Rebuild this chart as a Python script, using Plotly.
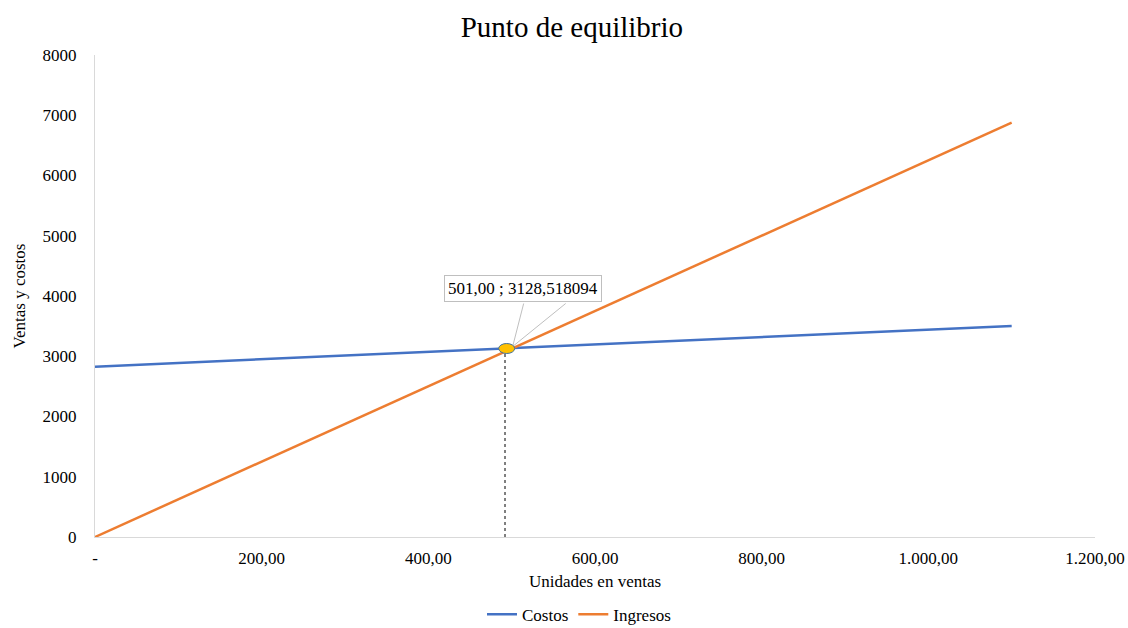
import plotly.graph_objects as go

# Data
unidades = [0, 1100]
costos = [2827, 3502]
ingresos = [0, 6877]
be_x = 494
be_y = 3128.518094
be_label = "501,00 ; 3128,518094"
x_tickvals = [0, 200, 400, 600, 800, 1000, 1200]
x_ticktext = ["-", "200,00", "400,00", "600,00", "800,00", "1.000,00", "1.200,00"]
y_tickvals = [0, 1000, 2000, 3000, 4000, 5000, 6000, 7000, 8000]

FONT = "Liberation Serif, Times New Roman, serif"

fig = go.Figure()
fig.add_trace(go.Scatter(x=unidades, y=costos, mode="lines", name="Costos",
                         line=dict(color="#4472C4", width=2.5)))
fig.add_trace(go.Scatter(x=unidades, y=ingresos, mode="lines", name="Ingresos",
                         line=dict(color="#ED7D31", width=2.5)))
# dashed drop line
fig.add_trace(go.Scatter(x=[be_x - 2, be_x - 2], y=[0, be_y], mode="lines", showlegend=False,
                         hoverinfo="skip", line=dict(color="black", width=1, dash="3px,3px")))

shapes = [
    # callout leader lines
    dict(type="path", xref="x", yref="y", xsizemode="pixel", ysizemode="pixel",
         xanchor=be_x, yanchor=be_y,
         path="M 6 2 L 17 45 M 6 2 L 59 45",
         line=dict(color="#BFBFBF", width=1)),
    # ellipse marker
    dict(type="circle", xref="x", yref="y", xsizemode="pixel", ysizemode="pixel",
         xanchor=be_x, yanchor=be_y, x0=-8, x1=8, y0=-5, y1=5,
         fillcolor="#FFC000", line=dict(color="#41719C", width=1)),
]

fig.update_layout(
    width=1128, height=628,
    margin=dict(l=95, r=33, t=55, b=91, autoexpand=False),
    paper_bgcolor="white", plot_bgcolor="white",
    font=dict(family=FONT, size=17, color="black"),
    title=dict(text="Punto de equilibrio", x=0.507, xanchor="center", y=0.958, yanchor="middle",
               font=dict(family=FONT, size=29, color="black")),
    xaxis=dict(range=[0, 1200], tickvals=x_tickvals, ticktext=x_ticktext, automargin=False,
               showgrid=False, zeroline=False, showline=True, linecolor="#D9D9D9", linewidth=1,
               ticks="", ticklabelstandoff=6,
               title=dict(text="Unidades en ventas", standoff=7, font=dict(family=FONT, size=17))),
    yaxis=dict(range=[0, 8000], tickvals=y_tickvals, automargin=False,
               showgrid=False, zeroline=False, showline=True, linecolor="#D9D9D9", linewidth=1,
               ticks="", ticklabelstandoff=14,
               title=dict(text="Ventas y costos", standoff=12, font=dict(family=FONT, size=17))),
    legend=dict(orientation="h", x=0.484, xanchor="center", y=-0.124, yanchor="top",
                font=dict(family=FONT, size=17), itemwidth=30, tracegroupgap=0),
    shapes=shapes,
    annotations=[dict(x=be_x, y=be_y, xref="x", yref="y", text=be_label, showarrow=False,
                      xshift=16, yshift=60, bgcolor="white", bordercolor="#BFBFBF", borderwidth=1,
                      borderpad=3, font=dict(family=FONT, size=17, color="black"))],
)

fig.write_html("out.html")
